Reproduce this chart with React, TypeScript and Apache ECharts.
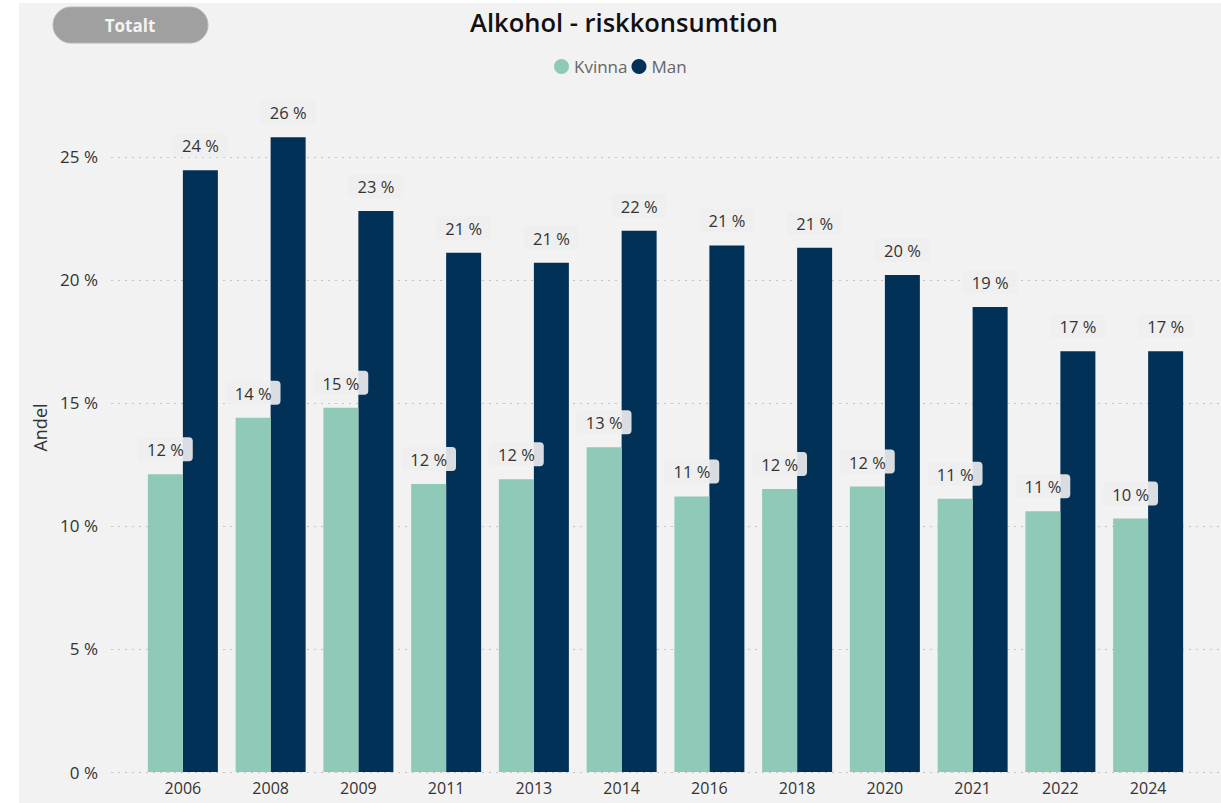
import React, { useEffect, useRef } from "react";
import * as echarts from "echarts";

const years = ["2006", "2008", "2009", "2011", "2013", "2014", "2016", "2018", "2020", "2021", "2022", "2024"];
const kvinna = [12.1, 14.4, 14.8, 11.7, 11.9, 13.2, 11.2, 11.5, 11.6, 11.1, 10.6, 10.3];
const man = [24.45, 25.8, 22.8, 21.1, 20.7, 22.0, 21.4, 21.3, 20.2, 18.9, 17.1, 17.1];
const seriesNames = ["Kvinna", "Man"];
const titleText = "Alkohol - riskkonsumtion";
const buttonText = "Totalt";
const yAxisName = "Andel";

const FONT = "'Segoe UI', 'Open Sans', sans-serif";

export default function App() {
  const ref = useRef<HTMLDivElement>(null);
  useEffect(() => {
    if (!ref.current) return;
    const chart = echarts.init(ref.current, null, { renderer: "svg" });
    const labelCfg = {
      show: true,
      position: "top",
      distance: 13,
      formatter: (p: any) => Math.round(p.value) + " %",
      fontSize: 16.5,
      fontFamily: FONT,
      color: "#333",
      backgroundColor: "rgba(238,238,238,0.91)",
      padding: [4, 9, 3, 9],
      borderRadius: 4,
    };
    chart.setOption({
      animation: false,
      backgroundColor: "#ffffff",
      textStyle: { fontFamily: FONT },
      graphic: [
        { type: "rect", z: -10, silent: true, shape: { x: 19, y: 3, width: 1202, height: 800 }, style: { fill: "#f2f2f2" } },
        { type: "rect", shape: { x: 53, y: 7, width: 155, height: 36, r: 18 }, style: { fill: "#a0a0a0", stroke: "#b4b4b4", lineWidth: 1 } },
        { type: "text", x: 130, y: 25, style: { text: buttonText, fill: "#f4f4f4", font: "bold 17px " + FONT, textAlign: "center", textVerticalAlign: "middle" } },
        { type: "text", x: 624, y: 22, style: { text: titleText, fill: "#111", font: "600 25.5px " + FONT, textAlign: "center", textVerticalAlign: "middle" } },
      ],
      legend: {
        data: seriesNames,
        left: 549,
        top: 53,
        icon: "circle",
        itemWidth: 15,
        itemHeight: 15,
        itemGap: 4,
        textStyle: { fontSize: 17, color: "#666", fontFamily: FONT },
      },
      grid: [
        { left: 139, right: 29, top: 83, bottom: 31 },
        { left: 111, right: 0, top: 83, bottom: 31 },
      ],
      xAxis: [
        {
          type: "category",
          gridIndex: 0,
          data: years,
          axisLine: { show: false },
          axisTick: { show: false },
          axisLabel: { fontSize: 16, color: "#333", margin: 8, fontFamily: FONT },
        },
        { type: "category", gridIndex: 1, data: years, show: false },
      ],
      yAxis: [
        {
          type: "value",
          gridIndex: 0,
          min: 0,
          max: 28,
          interval: 5,
          name: yAxisName,
          nameLocation: "middle",
          nameGap: 90,
          nameTextStyle: { fontSize: 18, color: "#333", fontFamily: FONT },
          axisLabel: { fontSize: 17, color: "#333", margin: 41, showMaxLabel: false, formatter: (v: number) => v + " %" },
          splitLine: { show: false },
          axisLine: { show: false },
          axisTick: { show: false },
        },
        {
          type: "value",
          gridIndex: 1,
          min: 0,
          max: 28,
          interval: 5,
          axisLabel: { show: false },
          axisLine: { show: false },
          axisTick: { show: false },
          splitLine: { show: true, showMaxLine: false, lineStyle: { color: "#c4c4c4", width: 1, type: [2, 5] } },
        },
      ],
      series: [
        {
          name: seriesNames[0],
          type: "bar",
          xAxisIndex: 0,
          yAxisIndex: 0,
          data: kvinna,
          barWidth: 35,
          barGap: "0%",
          itemStyle: { color: "#8fcab9" },
          label: labelCfg,
          z: 3,
        },
        {
          name: seriesNames[1],
          type: "bar",
          xAxisIndex: 0,
          yAxisIndex: 0,
          data: man,
          barWidth: 35,
          barGap: "0%",
          itemStyle: { color: "#023157" },
          label: labelCfg,
          z: 2,
        },
      ],
    });
    return () => chart.dispose();
  }, []);
  return <div ref={ref} style={{ position: "fixed", left: 0, top: 0, width: 1221, height: 803 }} />;
}
